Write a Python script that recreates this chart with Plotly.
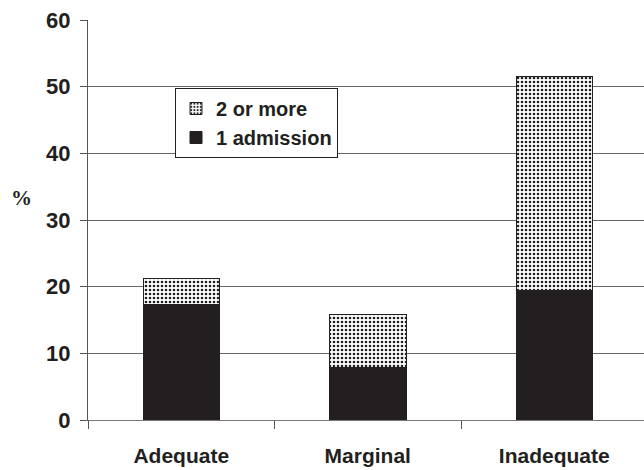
import plotly.graph_objects as go

# Share of patients readmitted, by adequacy category
categories = ["Adequate", "Marginal", "Inadequate"]
one_admission = [17.3, 7.9, 19.4]
two_or_more = [3.9, 8.0, 32.2]   # stacked on top of the single-admission share
y_ticks = [0, 10, 20, 30, 40, 50, 60]

INK = "#231f20"
FONT = "Liberation Sans, Arial, sans-serif"

fig = go.Figure()
fig.add_trace(go.Bar(
    x=categories, y=one_admission, name="1 admission",
    marker=dict(color=INK, line=dict(color=INK, width=1)),
))
fig.add_trace(go.Bar(
    x=categories, y=two_or_more, name="2 or more",
    marker=dict(
        color="white",
        line=dict(color=INK, width=1),
        pattern=dict(shape=".", size=4, solidity=0.35, fgcolor=INK,
                     bgcolor="white", fillmode="replace"),
    ),
))

fig.update_layout(
    width=644, height=470,
    margin=dict(l=88, r=0, t=20, b=50),
    barmode="stack", bargap=0.59,
    plot_bgcolor="white", paper_bgcolor="white",
    font=dict(family=FONT, size=20, color=INK, weight="bold"),
    legend=dict(
        x=(175 - 88) / 556, y=(420 - 88) / 400, xanchor="left", yanchor="top",
        traceorder="reversed", bgcolor="white",
        bordercolor=INK, borderwidth=1,
        font=dict(family=FONT, size=20, color=INK, weight="bold"),
        tracegroupgap=0,
    ),
    showlegend=True,
)

fig.update_xaxes(
    type="category", range=[-0.5, 2.481],
    tickson="boundaries", ticks="outside", ticklen=8, tickcolor="#555",
    showline=True, linecolor="#777", linewidth=1,
    showgrid=False, ticklabelstandoff=17,
    tickfont=dict(family=FONT, size=21, color=INK, weight="bold"),
)
fig.update_yaxes(
    range=[0, 60], tickvals=y_ticks, ticks="outside", ticklen=7,
    tickcolor="#555", showline=True, linecolor="#555", linewidth=1,
    showgrid=True, gridcolor="#666", gridwidth=1, zeroline=False,
    ticklabelstandoff=5,
    tickfont=dict(family=FONT, size=22, color=INK, weight="bold"),
)

fig.add_annotation(
    text="%", xref="paper", yref="paper", x=-(88 - 21) / 556, y=(420 - 198) / 400,
    xanchor="center", yanchor="middle", showarrow=False,
    font=dict(family="Liberation Serif, serif", size=21,
              color=INK, weight="bold"),
)

fig.write_html("out.html")
